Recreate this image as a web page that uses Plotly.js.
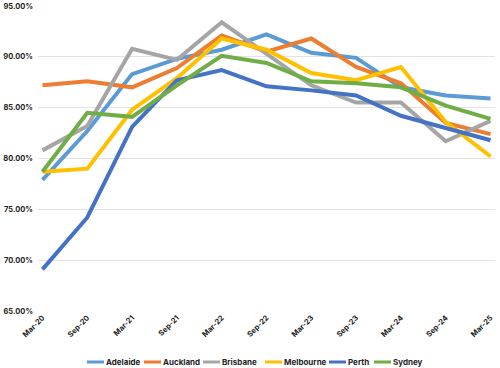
<!DOCTYPE html>
<html>
<head>
<meta charset="utf-8">
<script src="https://cdn.plot.ly/plotly-3.0.1.min.js"></script>
<style>html,body{margin:0;padding:0;background:#fff}#chart{width:500px;height:368px}</style>
</head>
<body>
<div id="chart"></div>
<script>
const periods = ["Mar-20","Sep-20","Mar-21","Sep-21","Mar-22","Sep-22","Mar-23","Sep-23","Mar-24","Sep-24","Mar-25"];
const adelaide  = [77.9, 82.7, 88.3, 89.8, 90.7, 92.2, 90.4, 89.9, 87.0, 86.2, 85.9];
const auckland  = [87.2, 87.6, 87.0, 88.9, 92.1, 90.5, 91.8, 89.0, 87.4, 83.5, 82.4];
const brisbane  = [80.8, 83.2, 90.8, 89.7, 93.4, 90.3, 87.2, 85.5, 85.5, 81.7, 83.7];
const melbourne = [78.7, 79.0, 84.8, 87.9, 91.8, 90.7, 88.4, 87.7, 89.0, 83.6, 80.2];
const perth     = [69.1, 74.2, 83.1, 87.7, 88.7, 87.1, 86.7, 86.2, 84.2, 83.0, 81.8];
const sydney    = [78.7, 84.5, 84.1, 87.2, 90.1, 89.4, 87.6, 87.4, 87.0, 85.2, 83.9];

const seriesNames = ["Adelaide","Auckland","Brisbane","Melbourne","Perth","Sydney"];
const seriesData = [adelaide, auckland, brisbane, melbourne, perth, sydney];
const colors = ["#5B9BD5","#ED7D31","#A5A5A5","#FFC000","#4472C4","#70AD47"];

const traces = seriesNames.map((n,i)=>({
  type:"scatter", mode:"lines", name:n, x:periods, y:seriesData[i],
  line:{color:colors[i], width:4}, showlegend:false
}));

const W = 500, H = 368;
const M = {l:38, r:5, t:6, b:57};
const pw = W - M.l - M.r, ph = H - M.t - M.b;
const px2x = p => (p - M.l) / pw;
const py2y = p => (H - M.b - p) / ph;

// custom legend (short line keys, like the original)
const legendStarts = [87, 144, 203, 265, 329, 374];
const legendY = 362, keyLen = 17;
const shapes = [], annotations = [];
seriesNames.forEach((n,i)=>{
  const x0 = legendStarts[i];
  shapes.push({type:"line", xref:"paper", yref:"paper",
    x0:px2x(x0), x1:px2x(x0+keyLen), y0:py2y(legendY), y1:py2y(legendY),
    line:{color:colors[i], width:3}});
  annotations.push({xref:"paper", yref:"paper", x:px2x(x0+keyLen), y:py2y(legendY),
    xanchor:"left", yanchor:"middle", text:n, showarrow:false,
    font:{family:"Inter, 'Open Sans', sans-serif", size:8, color:"#222", weight:700}});
});

const font = {family:"Inter, 'Open Sans', sans-serif", size:7.5, color:"#222", weight:700};

Plotly.newPlot("chart", traces, {
  width:W, height:H,
  margin:M,
  paper_bgcolor:"#fff", plot_bgcolor:"#fff",
  font:font,
  showlegend:false,
  shapes:shapes, annotations:annotations,
  xaxis:{type:"category", range:[-0.1,10.1], tickangle:-45, showgrid:false, showline:false,
         ticks:"", tickfont:font, zeroline:false},
  yaxis:{range:[65,95], dtick:5, tickformat:".2f", ticksuffix:"%", gridcolor:"#e3e3e3", gridwidth:1,
         zeroline:false, showline:false, ticks:"", tickfont:font, ticklabelstandoff:4}
}, {displayModeBar:false, staticPlot:true});
</script>
</body>
</html>
